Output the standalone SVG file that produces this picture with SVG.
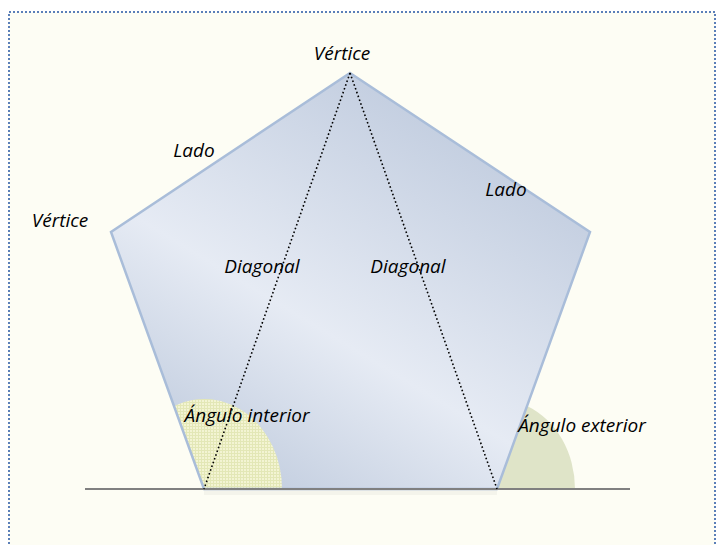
<svg xmlns="http://www.w3.org/2000/svg" width="724" height="545" viewBox="0 0 724 545">
  <defs>
    <style>
      .lbl { font-family: "Open Sans", "Lato", sans-serif; font-style: italic; font-size: 19px; fill: #000; }
      .diag { fill: none; stroke: #000; stroke-width: 1.6; stroke-dasharray: 1.6 2.4; }
      .edge { fill: none; stroke: #a9bdd9; stroke-width: 2.5; stroke-linejoin: miter; }
    </style>
    <!-- diagonal banded fill of the pentagon -->
    <linearGradient id="pentFill" gradientUnits="userSpaceOnUse" x1="250" y1="520" x2="480" y2="140">
      <stop offset="0" stop-color="#bdc9dc"/>
      <stop offset="0.45" stop-color="#e6ebf4"/>
      <stop offset="1" stop-color="#c3cee0"/>
    </linearGradient>
    <!-- fine grid texture of the interior angle -->
    <pattern id="grid" width="3" height="3" patternUnits="userSpaceOnUse">
      <rect width="3" height="3" fill="#f3f4d3"/>
      <path d="M0 0.5H3M0.5 0V3" stroke="#e3e7b6" stroke-width="1"/>
    </pattern>
    <clipPath id="pentClip">
      <polygon points="350,73 590,232 497,489 204,489 111,232"/>
    </clipPath>
  </defs>

  <!-- page background and dotted frame -->
  <rect x="0" y="0" width="724" height="545" fill="#ffffff"/>
  <rect x="9" y="12" width="706" height="560" fill="#fdfdf4" stroke="#5b7fb8" stroke-width="2" stroke-dasharray="2 2"/>

  <!-- exterior angle sector -->
  <g id="exterior-angle">
    <path d="M497,489 L575,489 A78,90 0 0,0 527.1,405.9 Z" fill="#dfe4c8"/>
  </g>

  <!-- pentagon body with interior angle sector -->
  <g id="pentagon">
    <polygon points="350,73 590,232 497,489 204,489 111,232" fill="url(#pentFill)"/>
    <path d="M204,489 L282,489 A78,90 0 0,0 173.9,405.9 Z" fill="url(#grid)" clip-path="url(#pentClip)"/>
    <polygon class="edge" points="350,73 590,232 497,489 204,489 111,232"/>
  </g>

  <!-- base line, faint shadow and diagonals -->
  <g id="connectors">
    <rect x="204" y="490" width="293" height="5" fill="#000" opacity="0.035"/>
    <line x1="85" y1="489" x2="630" y2="489" stroke="#808080" stroke-width="2"/>
    <line class="diag" x1="350" y1="73" x2="204" y2="489"/>
    <line class="diag" x1="350" y1="73" x2="497" y2="489"/>
  </g>

  <!-- labels -->
  <g id="label-vertex-top"><text class="lbl" x="342" y="60" text-anchor="middle">Vértice</text></g>
  <g id="label-vertex-left"><text class="lbl" x="60" y="227" text-anchor="middle">Vértice</text></g>
  <g id="label-side-left"><text class="lbl" x="194" y="157" text-anchor="middle">Lado</text></g>
  <g id="label-side-right"><text class="lbl" x="506" y="196" text-anchor="middle">Lado</text></g>
  <g id="label-diagonal-left"><text class="lbl" x="262" y="273" text-anchor="middle">Diagonal</text></g>
  <g id="label-diagonal-right"><text class="lbl" x="408" y="273" text-anchor="middle">Diagonal</text></g>
  <g id="label-interior"><text class="lbl" x="247" y="422" text-anchor="middle">Ángulo interior</text></g>
  <g id="label-exterior"><text class="lbl" x="582" y="432" text-anchor="middle">Ángulo exterior</text></g>
</svg>
